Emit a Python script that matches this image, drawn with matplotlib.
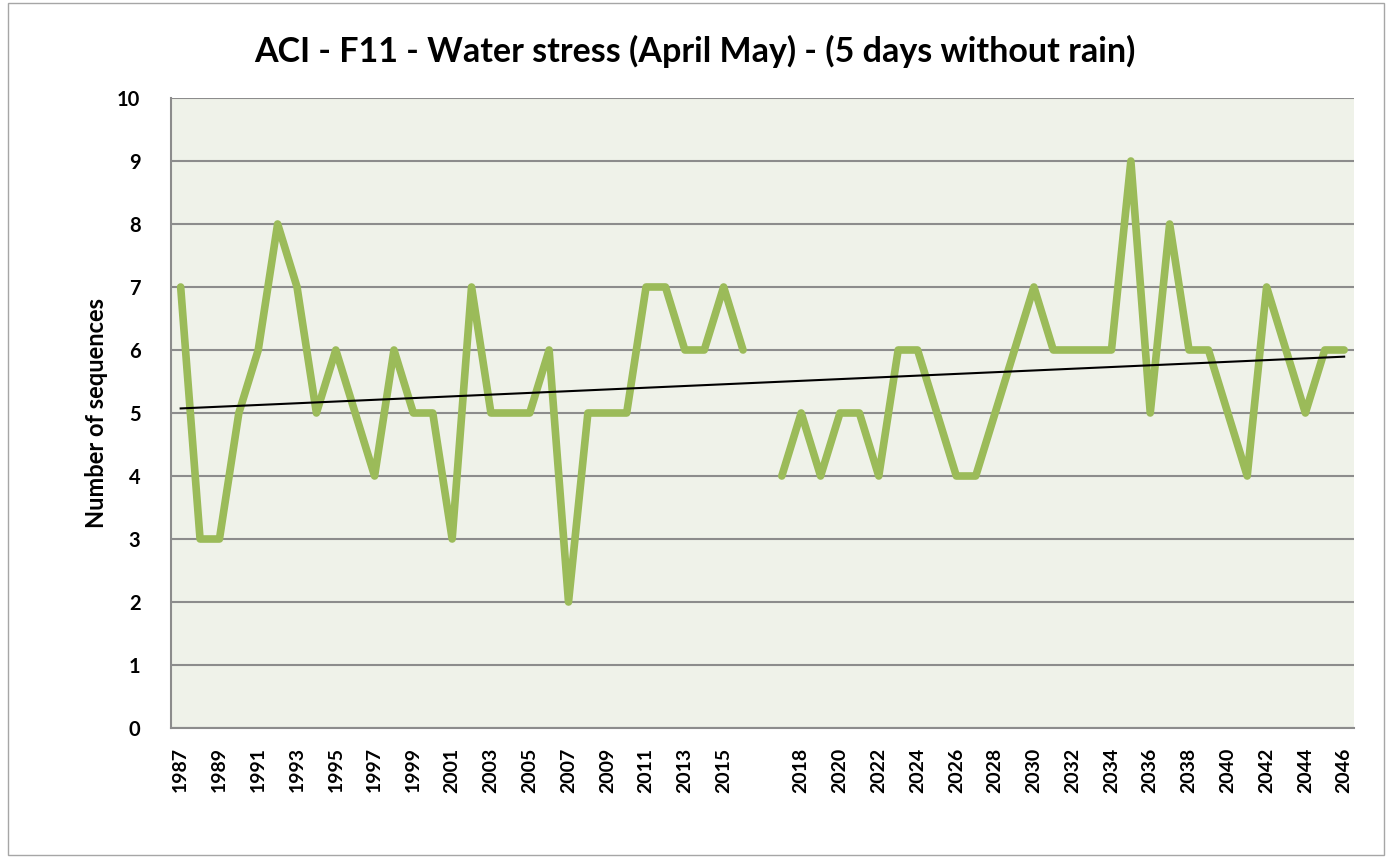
#ACI F11 water stress chart

#imports
import numpy as np
import matplotlib.pyplot as plt
from matplotlib.patches import Rectangle

#data: years 1987-2016, one empty category, then 2017-2046
years1 = list(range(1987, 2017))
years2 = list(range(2017, 2047))
values1 = [7, 3, 3, 5, 6, 8, 7, 5, 6, 5, 4, 6, 5, 5, 3, 7, 5, 5, 5, 6,
           2, 5, 5, 5, 7, 7, 6, 6, 7, 6]
values2 = [4, 5, 4, 5, 5, 4, 6, 6, 5, 4, 4, 5, 6, 7, 6, 6, 6, 6, 9, 5,
           8, 6, 6, 5, 4, 7, 6, 5, 6, 6]

categories = [str(y) for y in years1] + [""] + [str(y) for y in years2]
values = values1 + [np.nan] + values2

plt.rcParams['font.family'] = ['Lato', 'DejaVu Sans']

fig = plt.figure(figsize=(13.9, 8.58), dpi=100)
ax = fig.add_axes([0.123, 0.1515, 0.851, 0.7343])

x = np.arange(len(categories))
y = np.array(values, dtype=float)

ax.set_facecolor('#EFF2E9')
ax.plot(x, y, color='#9BBB59', linewidth=5.5, solid_joinstyle='round', solid_capstyle='round', zorder=3)

#linear trendline over the existing points
ok = ~np.isnan(y)
slope, inter = np.polyfit(x[ok], y[ok], 1)
ax.plot([x[0], x[-1]], [inter + slope * x[0], inter + slope * x[-1]], color='black', linewidth=1.5, zorder=4)

ax.set_xlim(-0.5, len(categories) - 0.5)
ax.set_ylim(0, 10)
ax.set_yticks(range(0, 11))
ax.yaxis.grid(True, color='#8C8C8C', linewidth=1.5)
ax.set_axisbelow(True)

#label every other category
ax.set_xticks(x[::2])
ax.set_xticklabels(categories[::2], rotation=90, fontsize=14, fontweight='bold')
ax.tick_params(axis='x', length=0, pad=14)
ax.tick_params(axis='y', length=0, pad=22, labelsize=14.5)
for lab in ax.get_yticklabels():
    lab.set_fontweight('bold')

for side in ['top', 'right']:
    ax.spines[side].set_visible(False)
for side in ['left', 'bottom']:
    ax.spines[side].set_color('#8C8C8C')
    ax.spines[side].set_linewidth(1.5)

ax.set_ylabel('Number of sequences', fontsize=17, fontweight='bold')
ax.yaxis.set_label_coords(-0.053, 0.5)
fig.text(0.5, 0.94, 'ACI - F11 - Water stress (April May) - (5 days without rain)',
         ha='center', va='center', fontsize=24.5, fontweight='bold')

#thin border round the chart area
fig.patches.append(Rectangle((0.006, 0.004), 0.99, 0.993, transform=fig.transFigure,
                             fill=False, edgecolor='#A6A6A6', linewidth=1))

fig.savefig('out.png', dpi=100)
